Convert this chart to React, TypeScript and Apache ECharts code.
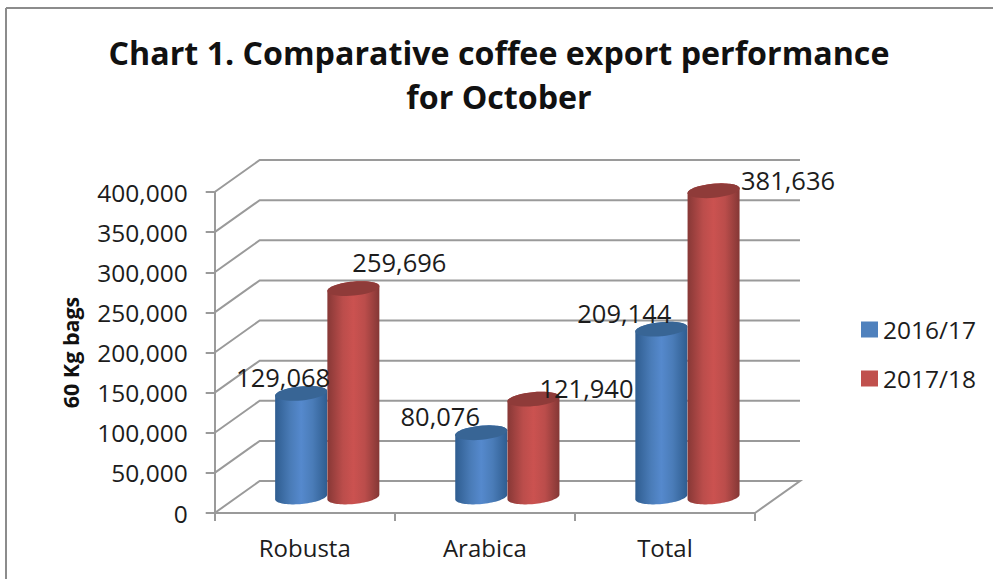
import React, { useEffect, useRef } from "react";
import * as echarts from "echarts";

const categories = ["Robusta", "Arabica", "Total"];
const seriesNames = ["2016/17", "2017/18"];
const exports2016 = [129068, 80076, 209144];
const exports2017 = [259696, 121940, 381636];
const valueTicks = [0, 50000, 100000, 150000, 200000, 250000, 300000, 350000, 400000];

// Oblique projection of the chart box: how far the back wall sits from the front plane.
const DEPTH_X = 45;
const DEPTH_Y = -32;
const BAR_RATIO = 0.145;
const ELLIPSE_RY = 7;
const TILT = (-5.5 * Math.PI) / 180;
const GRID_COLOR = "#9a9a9a";
const TEXT_COLOR = "#1c1c1c";
const FONT = "'Open Sans'";

// Hand placement of each value label relative to the centre of its cylinder top.
const labelShift2016 = [[-18, -16], [-41, -17], [-37, -16]];
const labelShift2017 = [[46, -27], [53, -11], [74.5, -11]];

const bodyStops = {
  blue: ["#2f5d90", "#4a7cb8", "#5589cd", "#4a7cb8", "#2f5d90"],
  red: ["#873836", "#bb4d4b", "#cb5250", "#bb4d4b", "#843735"],
};
const topColors = { blue: "#386595", red: "#8f3b39" };

function ellipsePoint(cx: number, cy: number, rx: number, t: number) {
  const ex = rx * Math.cos(t);
  const ey = ELLIPSE_RY * Math.sin(t);
  return [cx + ex * Math.cos(TILT) - ey * Math.sin(TILT), cy + ex * Math.sin(TILT) + ey * Math.cos(TILT)];
}

function ellipseArc(cx: number, cy: number, rx: number, from: number, to: number) {
  const pts: number[][] = [];
  const n = 40;
  for (let i = 0; i <= n; i++) pts.push(ellipsePoint(cx, cy, rx, from + ((to - from) * i) / n));
  return pts;
}

function cylinderSeries(name: string, values: number[], side: number, tone: "blue" | "red", shifts: number[][]) {
  const stops = bodyStops[tone].map((color, i) => ({ offset: [0, 0.3, 0.5, 0.72, 1][i], color }));
  return {
    type: "custom",
    name,
    z: 3,
    itemStyle: { color: tone === "blue" ? "#4f81bd" : "#c0504d" },
    data: values.map((v, i) => [i, v]),
    encode: { x: 0, y: 1 },
    renderItem(params: any, api: any) {
      const cat = api.value(0);
      const value = api.value(1);
      const [x, top] = api.coord([cat, value]);
      const [, base] = api.coord([cat, 0]);
      const rx = api.size([1, 0])[0] * BAR_RATIO;
      const cx = x + DEPTH_X / 2 + side * rx;
      const topY = top + DEPTH_Y / 2;
      const baseY = base + DEPTH_Y / 2;
      const shift = shifts[params.dataIndex];
      const outline = [...ellipseArc(cx, baseY, rx, 0, Math.PI), ...ellipseArc(cx, topY, rx, Math.PI, 2 * Math.PI)];
      return {
        type: "group",
        children: [
          {
            type: "polygon",
            shape: { points: outline },
            style: { fill: new echarts.graphic.LinearGradient(0, 0, 1, 0, stops) },
          },
          {
            type: "polygon",
            shape: { points: ellipseArc(cx, topY, rx, 0, 2 * Math.PI) },
            style: { fill: topColors[tone] },
          },
          {
            type: "text",
            z2: 100,
            style: {
              x: cx + shift[0],
              y: topY + shift[1],
              text: value.toLocaleString("en-US"),
              fill: TEXT_COLOR,
              font: `25.5px ${FONT}`,
              align: "center",
              verticalAlign: "middle",
            },
          },
        ],
      };
    },
  };
}

// Receding gridlines on the side and back walls, plus the far edge of the floor.
const wallSeries = {
  type: "custom",
  name: "walls",
  z: 1,
  silent: true,
  data: valueTicks.map((v) => [0, v]),
  encode: { x: 0, y: 1 },
  renderItem(params: any, api: any) {
    const grid = params.coordSys;
    const y = api.coord([0, api.value(1)])[1];
    const left = grid.x;
    const right = grid.x + grid.width;
    const points = [
      [left, y],
      [left + DEPTH_X, y + DEPTH_Y],
      [right + DEPTH_X, y + DEPTH_Y],
    ];
    if (api.value(1) === 0) points.push([right, y]);
    return {
      type: "polyline",
      shape: { points },
      style: { stroke: GRID_COLOR, lineWidth: 2, fill: "none" },
    };
  },
};

export default function App() {
  const ref = useRef<HTMLDivElement>(null);

  useEffect(() => {
    document.body.style.margin = "0";
    const chart = echarts.init(ref.current!, undefined, { renderer: "svg" });
    chart.setOption({
      animation: false,
      backgroundColor: "#ffffff",
      title: {
        text: "Chart 1. Comparative coffee export performance\nfor October",
        left: 494,
        top: 25,
        textAlign: "center",
        textStyle: { fontFamily: FONT, fontWeight: "bold", fontSize: 32.2, lineHeight: 44, color: "#111111" },
      },
      legend: {
        data: seriesNames,
        orient: "vertical",
        left: 856,
        top: 312,
        icon: "rect",
        itemWidth: 17,
        itemHeight: 16,
        itemGap: 24,
        textStyle: { fontFamily: FONT, fontSize: 24.5, color: TEXT_COLOR },
      },
      grid: { left: 214.7, top: 192, width: 540.3, height: 321 },
      xAxis: {
        type: "category",
        data: categories,
        axisLine: { lineStyle: { color: GRID_COLOR, width: 2 } },
        axisTick: { show: true, length: 8, lineStyle: { color: GRID_COLOR, width: 2 } },
        axisLabel: { fontFamily: FONT, fontSize: 24, color: TEXT_COLOR, margin: 22 },
      },
      yAxis: {
        type: "value",
        min: 0,
        max: 400000,
        interval: 50000,
        name: "60 Kg bags",
        nameLocation: "middle",
        nameGap: 133,
        nameTextStyle: { fontFamily: FONT, fontWeight: "bold", fontSize: 21.5, color: "#111111" },
        axisLine: { show: true, lineStyle: { color: GRID_COLOR, width: 2 } },
        axisTick: { show: true, length: 9, lineStyle: { color: GRID_COLOR, width: 2 } },
        splitLine: { show: false },
        axisLabel: {
          fontFamily: FONT,
          fontSize: 24.5,
          color: TEXT_COLOR,
          margin: 27,
          formatter: (v: number) => v.toLocaleString("en-US"),
        },
      },
      graphic: [
        { type: "line", shape: { x1: 6, y1: 8, x2: 993, y2: 8 }, style: { stroke: "#8c8c8c", lineWidth: 2 } },
        { type: "line", shape: { x1: 6, y1: 8, x2: 6, y2: 579 }, style: { stroke: "#8c8c8c", lineWidth: 2 } },
      ],
      series: [
        wallSeries,
        cylinderSeries(seriesNames[0], exports2016, -1, "blue", labelShift2016),
        cylinderSeries(seriesNames[1], exports2017, 1, "red", labelShift2017),
      ],
    });
    return () => chart.dispose();
  }, []);

  return <div ref={ref} style={{ width: 993, height: 579 }} />;
}
